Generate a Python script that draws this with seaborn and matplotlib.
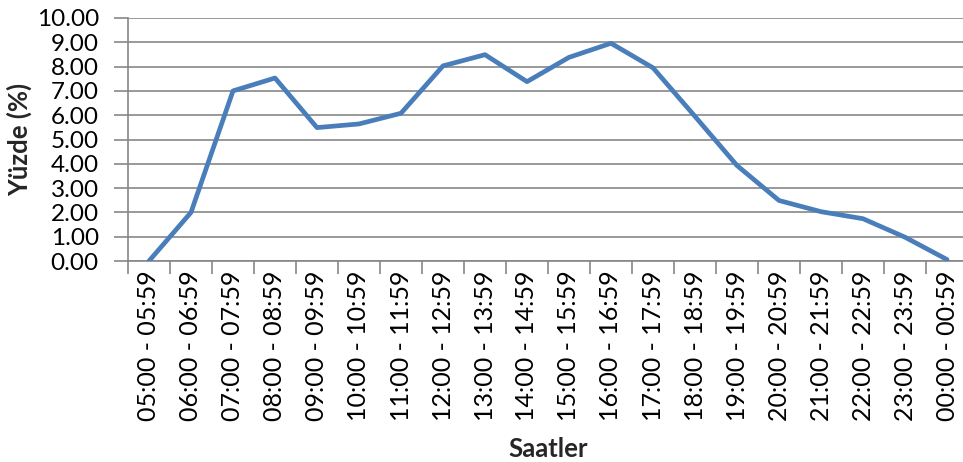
import matplotlib
matplotlib.use("Agg")
import matplotlib.pyplot as plt
import seaborn as sns
import pandas as pd
import numpy as np

hours = ["05:00 - 05:59", "06:00 - 06:59", "07:00 - 07:59", "08:00 - 08:59",
         "09:00 - 09:59", "10:00 - 10:59", "11:00 - 11:59", "12:00 - 12:59",
         "13:00 - 13:59", "14:00 - 14:59", "15:00 - 15:59", "16:00 - 16:59",
         "17:00 - 17:59", "18:00 - 18:59", "19:00 - 19:59", "20:00 - 20:59",
         "21:00 - 21:59", "22:00 - 22:59", "23:00 - 23:59", "00:00 - 00:59"]
percent = [0.00, 2.00, 7.00, 7.53, 5.49, 5.64, 6.08, 8.03, 8.49, 7.38,
           8.38, 8.96, 7.95, 5.95, 3.93, 2.49, 2.03, 1.74, 0.98, 0.06]
y_ticks = [0, 1, 2, 3, 4, 5, 6, 7, 8, 9, 10]

sns.set_theme(style="white")
plt.rcParams["font.family"] = ["Lato", "DejaVu Sans"]

df = pd.DataFrame({"Saatler": hours, "Yüzde": percent, "pos": np.arange(len(hours))})

fig = plt.figure(figsize=(9.63, 4.62), dpi=100)
ax = fig.add_axes([128 / 963, 201 / 462, 840 / 963, 243 / 462])

sns.lineplot(data=df, x="pos", y="Yüzde", ax=ax, color="#4A7EBB",
             linewidth=3.4, sort=False, zorder=3)

grid_color = "#878787"
ax.set_ylim(0, 10)
ax.set_yticks(y_ticks)
ax.set_yticklabels([f"{v:.2f}" for v in y_ticks], fontsize=17.5, color="black")
ax.yaxis.grid(True, color=grid_color, linewidth=1.2)
ax.set_axisbelow(True)

ax.set_xlim(-0.5, len(hours) - 0.5)
ax.set_xticks(np.arange(-0.5, len(hours), 1.0))
ax.set_xticklabels([])
ax.set_xticks(np.arange(len(hours)), minor=True)
ax.set_xticklabels(hours, minor=True, rotation=90, fontsize=18, color="black")
ax.tick_params(axis="x", which="major", length=9, width=1.2, color=grid_color,
               direction="out", bottom=True)
ax.tick_params(axis="x", which="minor", length=0, pad=7)
ax.tick_params(axis="y", length=10, width=1.2, color=grid_color,
               direction="out", left=True, pad=11)

for side in ["top", "right"]:
    ax.spines[side].set_visible(False)
for side in ["left", "bottom"]:
    ax.spines[side].set_color(grid_color)
    ax.spines[side].set_linewidth(1.2)

ax.set_xlabel("Saatler", fontsize=18.5, fontweight="bold", labelpad=11)
ax.set_ylabel("Yüzde (%)", fontsize=18.5, fontweight="bold", labelpad=3)

fig.savefig("out.png", dpi=100)
